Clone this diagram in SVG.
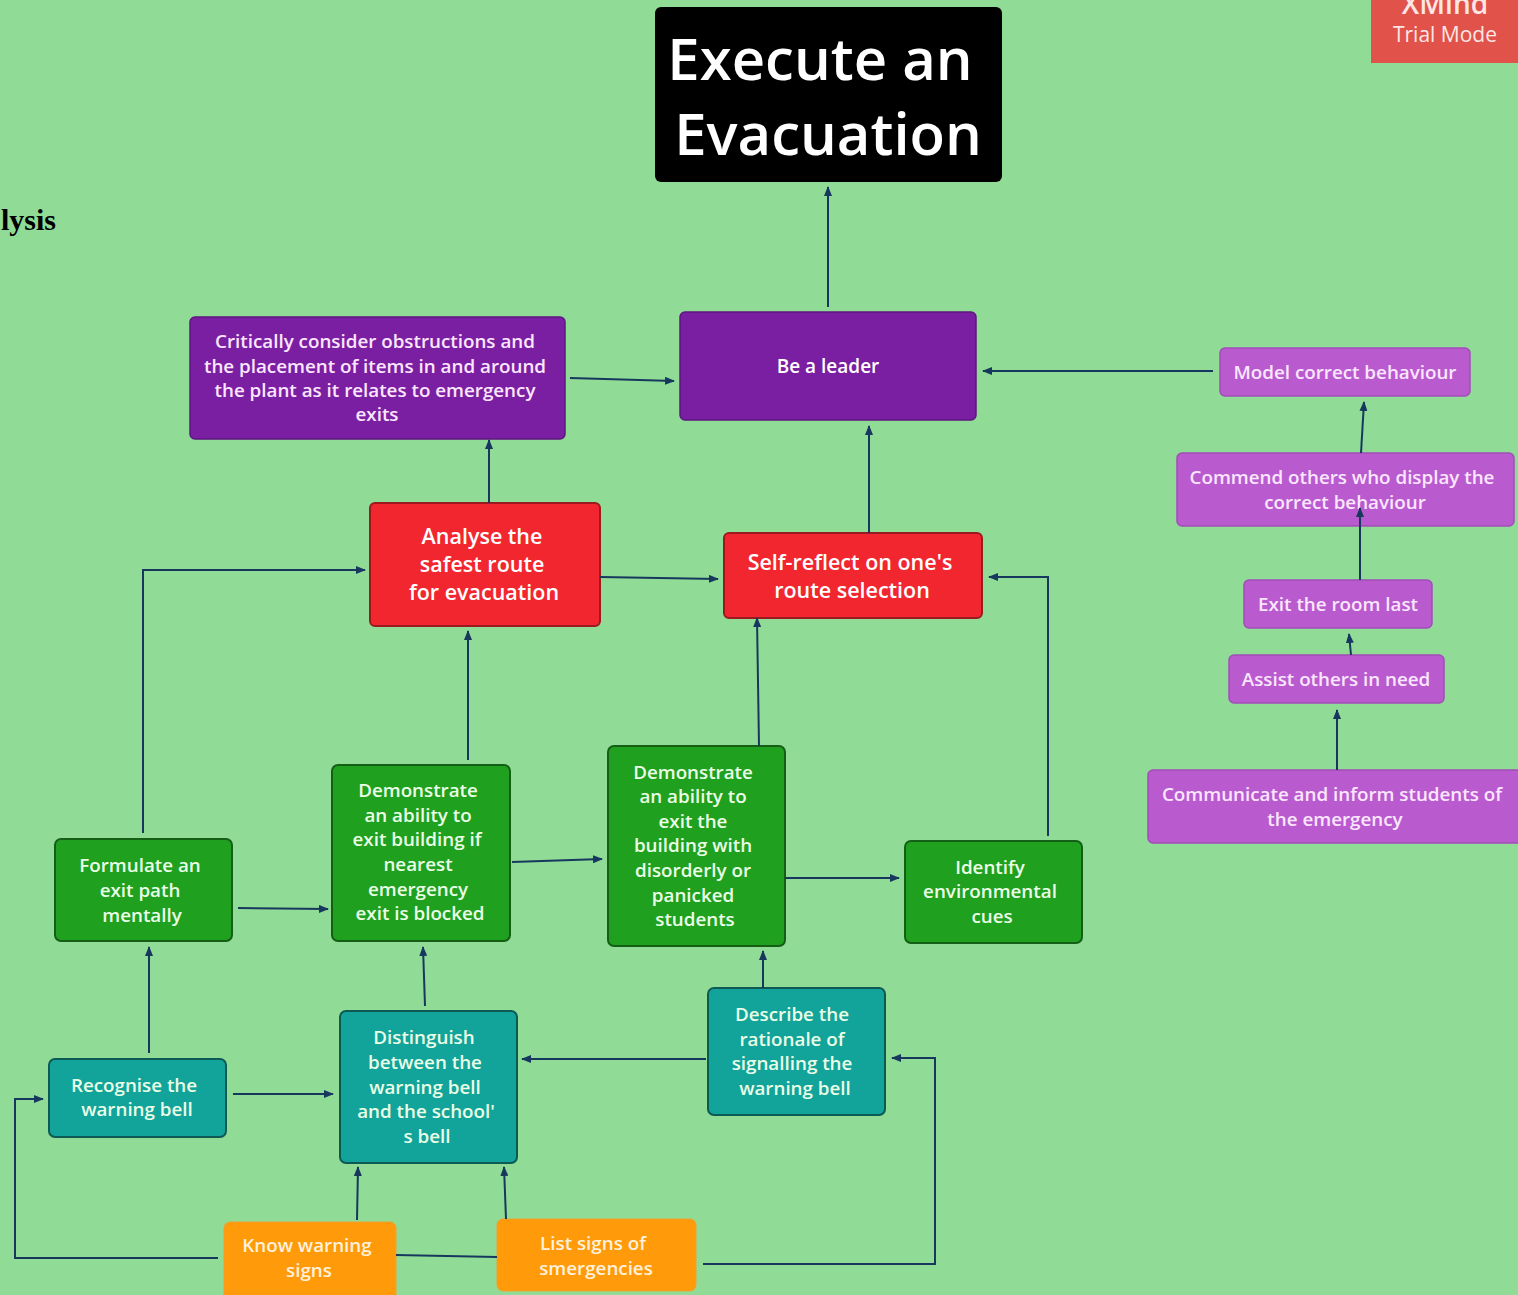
<svg xmlns="http://www.w3.org/2000/svg" width="1518" height="1295" viewBox="0 0 1518 1295">
<defs>
<marker id="ah" markerUnits="userSpaceOnUse" markerWidth="10" markerHeight="8" refX="9" refY="4" orient="auto">
<path d="M0,0 L10,4 L0,8 Z" fill="#17375e"/>
</marker>
<style>
text{font-family:"Open Sans","Liberation Sans",sans-serif;font-weight:600;text-anchor:middle;dominant-baseline:central}
.t{font-size:19px;fill:#ffffff}
.tl{font-size:18.8px;fill:#fbe6ff}
.tg{font-size:18.8px;fill:#eaffe6}
.to{font-size:18.8px;fill:#fff1dc}
.tr{font-size:21.5px;fill:#ffffff}
.c{fill:none;stroke:#17375e;stroke-width:2;marker-end:url(#ah)}
.cn{fill:none;stroke:#17375e;stroke-width:2}
.purple{fill:#7b1fa2;stroke:#5e1680;stroke-width:1.5}
.lpurple{fill:#b95bcf;stroke:#a24cb8;stroke-width:1.5}
.red{fill:#f2262f;stroke:#9b1a1f;stroke-width:2}
.green{fill:#1fa01f;stroke:#145e16;stroke-width:2}
.teal{fill:#12a39a;stroke:#0d5a55;stroke-width:2}
.orange{fill:#ff9b0a;stroke:#f0a030;stroke-width:1}
</style>
</defs>
<rect width="1518" height="1295" fill="#90dc96"/>
<text x="56" y="219" style="font-family:'Liberation Serif',serif;font-weight:700;font-size:30px;text-anchor:end;fill:#000">lysis</text>

<g id="xmind-badge">
<rect x="1371" y="-6" width="150" height="69" fill="#e0524a"/>
<text x="1445" y="3" style="font-size:28px;fill:#fde6e4">XMind</text>
<text x="1445" y="34" style="font-size:21px;font-weight:400;fill:#fde6e4">Trial Mode</text>
</g>

<g id="n-title">
<rect x="655" y="7" width="347" height="175" rx="6" fill="#000"/>
<text x="820" y="57" style="font-size:58px;fill:#fff">Execute an</text>
<text x="828" y="132" style="font-size:58px;fill:#fff">Evacuation</text>
</g>

<g id="n-leader">
<rect class="purple" x="680" y="312" width="296" height="108" rx="5"/>
<text class="t" x="828" y="366">Be a leader</text>
</g>

<g id="n-critically">
<rect class="purple" x="190" y="317" width="375" height="122" rx="5"/>
<text class="tl" x="375" y="341">Critically consider obstructions and</text>
<text class="tl" x="375" y="366">the placement of items in and around</text>
<text class="tl" x="375" y="390">the plant as it relates to emergency</text>
<text class="tl" x="377" y="414">exits</text>
</g>

<g id="n-model">
<rect class="lpurple" x="1220" y="348" width="250" height="48" rx="5"/>
<text class="tl" x="1345" y="372">Model correct behaviour</text>
</g>

<g id="n-commend">
<rect class="lpurple" x="1177" y="453" width="337" height="73" rx="5"/>
<text class="tl" x="1342" y="477">Commend others who display the</text>
<text class="tl" x="1345" y="502">correct behaviour</text>
</g>

<g id="n-exitlast">
<rect class="lpurple" x="1244" y="580" width="188" height="48" rx="5"/>
<text class="tl" x="1338" y="604">Exit the room last</text>
</g>

<g id="n-assist">
<rect class="lpurple" x="1229" y="655" width="215" height="48" rx="5"/>
<text class="tl" x="1336" y="679">Assist others in need</text>
</g>

<g id="n-communicate">
<rect class="lpurple" x="1148" y="770" width="375" height="73" rx="5"/>
<text class="tl" x="1332" y="794">Communicate and inform students of</text>
<text class="tl" x="1335" y="819">the emergency</text>
</g>

<g id="n-analyse">
<rect class="red" x="370" y="503" width="230" height="123" rx="5"/>
<text class="tr" x="482" y="535">Analyse the</text>
<text class="tr" x="482" y="563">safest route</text>
<text class="tr" x="484" y="591">for evacuation</text>
</g>

<g id="n-selfreflect">
<rect class="red" x="724" y="533" width="258" height="85" rx="5"/>
<text class="tr" x="850" y="561">Self-reflect on one's</text>
<text class="tr" x="852" y="589">route selection</text>
</g>

<g id="n-formulate">
<rect class="green" x="55" y="839" width="177" height="102" rx="6"/>
<text class="tg" x="140" y="865">Formulate an</text>
<text class="tg" x="140" y="890">exit path</text>
<text class="tg" x="142" y="915">mentally</text>
</g>

<g id="n-blocked">
<rect class="green" x="332" y="765" width="178" height="176" rx="6"/>
<text class="tg" x="418" y="790">Demonstrate</text>
<text class="tg" x="418" y="815">an ability to</text>
<text class="tg" x="417" y="839">exit building if</text>
<text class="tg" x="418" y="864">nearest</text>
<text class="tg" x="418" y="889">emergency</text>
<text class="tg" x="420" y="913">exit is blocked</text>
</g>

<g id="n-disorderly">
<rect class="green" x="608" y="746" width="177" height="200" rx="6"/>
<text class="tg" x="693" y="772">Demonstrate</text>
<text class="tg" x="693" y="796">an ability to</text>
<text class="tg" x="693" y="821">exit the</text>
<text class="tg" x="693" y="845">building with</text>
<text class="tg" x="693" y="870">disorderly or</text>
<text class="tg" x="693" y="895">panicked</text>
<text class="tg" x="695" y="919">students</text>
</g>

<g id="n-identify">
<rect class="green" x="905" y="841" width="177" height="102" rx="6"/>
<text class="tg" x="990" y="867">Identify</text>
<text class="tg" x="990" y="891">environmental</text>
<text class="tg" x="992" y="916">cues</text>
</g>

<g id="n-recognise">
<rect class="teal" x="49" y="1059" width="177" height="78" rx="6"/>
<text class="tg" x="134" y="1085">Recognise the</text>
<text class="tg" x="137" y="1109">warning bell</text>
</g>

<g id="n-distinguish">
<rect class="teal" x="340" y="1011" width="177" height="152" rx="6"/>
<text class="tg" x="424" y="1037">Distinguish</text>
<text class="tg" x="425" y="1062">between the</text>
<text class="tg" x="425" y="1087">warning bell</text>
<text class="tg" x="426" y="1111">and the school'</text>
<text class="tg" x="427" y="1136">s bell</text>
</g>

<g id="n-describe">
<rect class="teal" x="708" y="988" width="177" height="127" rx="6"/>
<text class="tg" x="792" y="1014">Describe the</text>
<text class="tg" x="792" y="1039">rationale of</text>
<text class="tg" x="792" y="1063">signalling the</text>
<text class="tg" x="795" y="1088">warning bell</text>
</g>

<g id="n-know">
<rect class="orange" x="224" y="1222" width="172" height="80" rx="6"/>
<text class="to" x="307" y="1245">Know warning</text>
<text class="to" x="309" y="1270">signs</text>
</g>

<g id="n-list">
<rect class="orange" x="497" y="1219" width="199" height="72" rx="6"/>
<text class="to" x="593" y="1243">List signs of</text>
<text class="to" x="596" y="1268">smergencies</text>
</g>

<g id="connectors">
<path class="c" d="M828,307 L828,187"/>
<path class="c" d="M570,378 L674,381"/>
<path class="c" d="M1213,371 L983,371"/>
<path class="c" d="M1361,453 L1364,402"/>
<path class="c" d="M1360,580 L1360,508"/>
<path class="c" d="M1351,655 L1349,634"/>
<path class="c" d="M1337,770 L1337,710"/>
<path class="c" d="M489,503 L489,440"/>
<path class="c" d="M869,533 L869,426"/>
<path class="c" d="M600,577 L718,579"/>
<path class="c" d="M143,833 L143,570 L365,570"/>
<path class="c" d="M238,908 L328,909"/>
<path class="c" d="M468,760 L468,631"/>
<path class="c" d="M512,862 L602,859"/>
<path class="c" d="M759,746 L757,618"/>
<path class="c" d="M785,878 L899,878"/>
<path class="c" d="M1048,836 L1048,577 L989,577"/>
<path class="c" d="M149,1053 L149,947"/>
<path class="c" d="M233,1094 L333,1094"/>
<path class="c" d="M425,1006 L423,947"/>
<path class="c" d="M706,1059 L522,1059"/>
<path class="c" d="M763,988 L763,951"/>
<path class="c" d="M218,1258 L15,1258 L15,1099 L43,1099"/>
<path class="c" d="M357,1220 L358,1167"/>
<path class="cn" d="M396,1255 L497,1257"/>
<path class="c" d="M506,1219 L504,1167"/>
<path class="c" d="M703,1264 L935,1264 L935,1058 L892,1058"/>
</g>
</svg>
